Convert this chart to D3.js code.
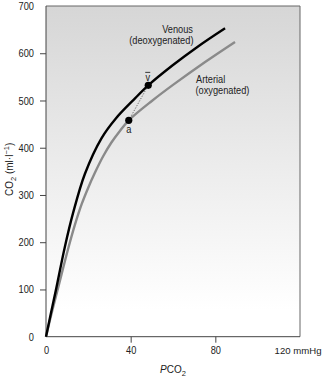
<!DOCTYPE html>
<html><head><meta charset="utf-8">
<script src="https://cdn.jsdelivr.net/npm/d3@7"></script>
<style>
body{margin:0;background:#fff;}
text{font-family:"Liberation Sans",Arial,sans-serif;fill:#222;}
</style></head>
<body><svg id="c" width="324" height="379"></svg>
<script>
// Data (PCO2 mmHg, CO2 ml/l)
const venousPCO2 = [0, 2.3, 4.6, 8.9, 12.8, 18.4, 26.2, 33, 41.5, 48.3, 60, 72, 84.6];
const venousCO2  = [0, 49, 97, 190, 262, 345, 420, 462, 502, 532, 575, 615, 653];
const arterialPCO2 = [0, 3, 6.1, 10.4, 13.6, 16.8, 20, 23.1, 27, 30.9, 35, 39.1, 50, 60, 75, 89.3];
const arterialCO2  = [0, 56, 110, 185, 236, 280, 316, 347, 382, 411, 436, 458, 499, 533, 581, 624];
const pointLabels = ["a", "v"];
const pointPCO2 = [39.1, 48.3];
const pointCO2 = [458, 532];
const xTicks = [0, 40, 80, 120];
const xTickLabels = ["0", "40", "80", "120 mmHg"];
const yTicks = [0, 100, 200, 300, 400, 500, 600, 700];

const svg = d3.select("#c");
const L = 46, R = 300, T = 6, B = 336.7;
const x = d3.scaleLinear().domain([0, 120]).range([L, R]);
const y = d3.scaleLinear().domain([0, 700]).range([B, T]);

// background gradient
const defs = svg.append("defs");
const g = defs.append("linearGradient").attr("id","bg").attr("x1",0).attr("y1",0).attr("x2",0).attr("y2",1);
g.append("stop").attr("offset","0%").attr("stop-color","#d6d6d6");
g.append("stop").attr("offset","55%").attr("stop-color","#efefef");
g.append("stop").attr("offset","92%").attr("stop-color","#ffffff");
svg.append("rect").attr("x",L).attr("y",T).attr("width",R-L).attr("height",B-T).attr("fill","url(#bg)");

// frame (top and right)
svg.append("path").attr("d",`M${L},${T}H${R}V${B}`).attr("fill","none").attr("stroke","#666").attr("stroke-width",1);

// axes
const xAxis = d3.axisBottom(x).tickValues(xTicks).tickSize(6).tickPadding(4)
  .tickFormat((d,i)=>xTickLabels[i]);
const gx = svg.append("g").attr("transform",`translate(0,${B})`).call(xAxis);
gx.select(".domain").attr("stroke","#444").attr("d",`M${L},0H${R}`);
gx.selectAll(".tick line").attr("stroke","#444").attr("display",d=>(d===0||d===120)?"none":null);
gx.selectAll(".tick text").attr("font-size",11).attr("class","cond");
// last label: smaller, anchored at its right end so it stays inside the picture
gx.selectAll(".tick text").filter(d=>d===120).attr("class",null).attr("font-size",9.6)
  .attr("text-anchor","end").attr("x",21);

const yAxis = d3.axisLeft(y).tickValues(yTicks).tickSize(6).tickPadding(6);
const gy = svg.append("g").attr("transform",`translate(${L},0)`).call(yAxis);
gy.select(".domain").attr("stroke","#444").attr("d",`M0,${B}V${T}`);
gy.selectAll(".tick line").attr("stroke","#444").attr("display",d=>(d===0||d===700)?"none":null);
gy.selectAll(".tick text").attr("font-size",11).attr("class","cond");
svg.selectAll("g").attr("font-family",null).attr("font-size",null);

// curves
const line = d3.line().x(d=>x(d[0])).y(d=>y(d[1])).curve(d3.curveCatmullRom.alpha(0.5));
const art = arterialPCO2.map((p,i)=>[p, arterialCO2[i]]);
const ven = venousPCO2.map((p,i)=>[p, venousCO2[i]]);
svg.append("path").datum(art).attr("d",line).attr("fill","none").attr("stroke","#8a8a8a").attr("stroke-width",2.4);
svg.append("path").datum(ven).attr("d",line).attr("fill","none").attr("stroke","#000").attr("stroke-width",2.4);

// dotted connection a -> v
svg.append("line").attr("x1",x(pointPCO2[0])).attr("y1",y(pointCO2[0]))
  .attr("x2",x(pointPCO2[1])).attr("y2",y(pointCO2[1]))
  .attr("stroke","#555").attr("stroke-width",0.9).attr("stroke-dasharray","1.2,1.5");

// points
svg.selectAll("circle.pt").data(pointPCO2).enter().append("circle")
  .attr("cx",d=>x(d)).attr("cy",(d,i)=>y(pointCO2[i])).attr("r",3.6).attr("fill","#000");

// point labels
svg.append("text").attr("class","cond").attr("x",x(pointPCO2[0])).attr("y",y(pointCO2[0])+13).attr("text-anchor","middle").attr("font-size",11).text(pointLabels[0]);
const vx = x(pointPCO2[1]) - 0.5, vy = y(pointCO2[1]) - 4;
svg.append("text").attr("class","cond").attr("x",vx).attr("y",vy).attr("text-anchor","middle").attr("font-size",11).text(pointLabels[1]);
svg.append("line").attr("x1",vx-2.5).attr("x2",vx+2.5).attr("y1",vy-9).attr("y2",vy-9).attr("stroke","#222").attr("stroke-width",0.9);

// series labels
svg.append("text").attr("class","cond").attr("x",193).attr("y",33).attr("text-anchor","end").attr("font-size",11).text("Venous");
svg.append("text").attr("class","cond").attr("x",193.5).attr("y",44).attr("text-anchor","end").attr("font-size",11).text("(deoxygenated)");
svg.append("text").attr("class","cond").attr("x",196).attr("y",83).attr("text-anchor","start").attr("font-size",11).text("Arterial");
svg.append("text").attr("class","cond").attr("x",195.5).attr("y",94).attr("text-anchor","start").attr("font-size",11).text("(oxygenated)");

// x axis title
const xt = svg.append("text").attr("x",(L+R)/2).attr("y",373).attr("text-anchor","middle").attr("font-size",10);
xt.append("tspan").attr("font-style","italic").text("P");
xt.append("tspan").text("CO");
xt.append("tspan").attr("font-size",7.5).attr("dy",3).text("2");

// y axis title
const yt = svg.append("text").attr("transform",`translate(13,${(T+B)/2 - 2}) rotate(-90)`).attr("text-anchor","middle").attr("font-size",10);
yt.append("tspan").text("CO");
yt.append("tspan").attr("font-size",7.5).attr("dy",3).text("2");
yt.append("tspan").attr("dy",-3).text(" (ml·l");
yt.append("tspan").attr("font-size",7.5).attr("dy",-4).text("−1");
yt.append("tspan").attr("dy",4).text(")");

// condense simple texts horizontally (narrow typeface look)
svg.selectAll("text.cond").each(function(){
  const w = this.getComputedTextLength();
  if (w > 0) d3.select(this).attr("textLength", w*0.84).attr("lengthAdjust","spacingAndGlyphs");
});
</script></body></html>
